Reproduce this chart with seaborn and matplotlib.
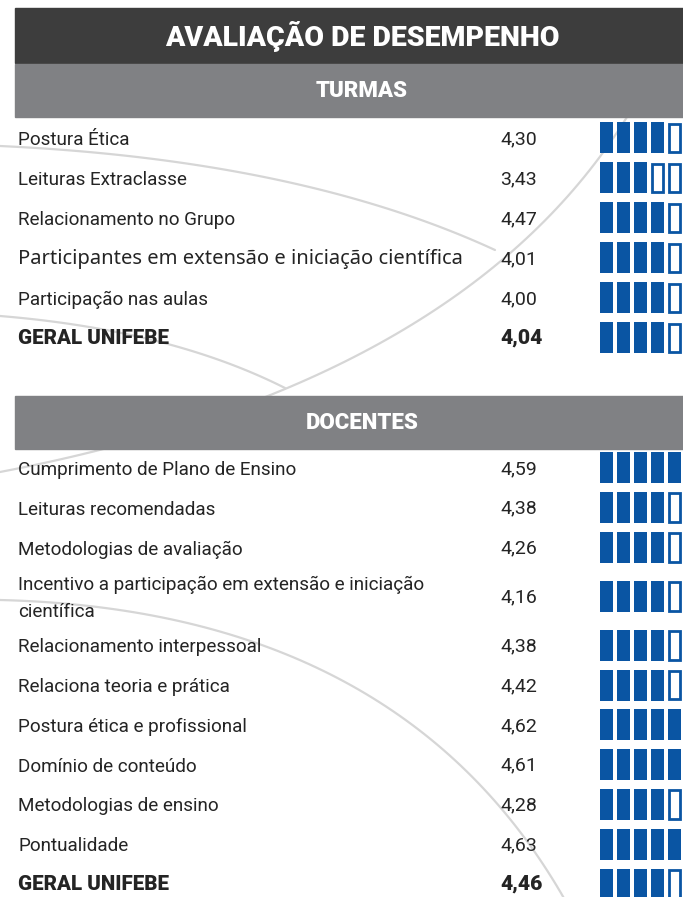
"""Infographic: Avaliação de desempenho (turmas e docentes)."""
import numpy as np
import matplotlib
matplotlib.use('Agg')
import matplotlib.pyplot as plt
from matplotlib.patches import Rectangle
import seaborn as sns

# --- data ---
turmas_labels = [
    'Postura Ética',
    'Leituras Extraclasse',
    'Relacionamento no Grupo',
    'Participantes em extensão e iniciação científica',
    'Participação nas aulas',
    'GERAL UNIFEBE',
]
turmas_values = [4.30, 3.43, 4.47, 4.01, 4.00, 4.04]
turmas_filled = [4, 3, 4, 4, 4, 4]

docentes_labels = [
    'Cumprimento de Plano de Ensino',
    'Leituras recomendadas',
    'Metodologias de avaliação',
    'Incentivo a participação em extensão e iniciação\ncientífica',
    'Relacionamento interpessoal',
    'Relaciona teoria e prática',
    'Postura ética e profissional',
    'Domínio de conteúdo',
    'Metodologias de ensino',
    'Pontualidade',
    'GERAL UNIFEBE',
]
docentes_values = [4.59, 4.38, 4.26, 4.16, 4.38, 4.42, 4.62, 4.61, 4.28, 4.63, 4.46]
docentes_filled = [5, 4, 4, 4, 4, 4, 5, 5, 4, 5, 4]

title = 'AVALIAÇÃO DE DESEMPENHO'
sections = ['TURMAS', 'DOCENTES']

# --- style ---
sns.set_theme(style='white')
plt.rcParams['font.family'] = ['Roboto', 'DejaVu Sans']
BLUE = '#0a55a3'
TEXT = '#242424'
CURVE = '#d6d6d6'

W, H = 683, 897
fig = plt.figure(figsize=(W / 100, H / 100), dpi=100)
ax = fig.add_axes([0, 0, 1, 1])
ax.set_xlim(0, W)
ax.set_ylim(H, 0)
ax.axis('off')


def bezier(p0, p1, p2, n=80):
    t = np.linspace(0, 1, n)[:, None]
    pts = (1 - t) ** 2 * np.array(p0) + 2 * (1 - t) * t * np.array(p1) + t ** 2 * np.array(p2)
    return pts[:, 0], pts[:, 1]


# decorative background arcs
for p0, p1, p2 in [
    ((0, 146), (300, 160), (495, 250)),
    ((640, 95), (480, 380), (0, 472)),
    ((0, 316), (170, 330), (285, 388)),
    ((0, 600), (400, 610), (565, 900)),
]:
    xs, ys = bezier(p0, p1, p2)
    ax.plot(xs, ys, color=CURVE, lw=1.6, zorder=0, solid_capstyle='round')

# header bars
BAR_X = 15
ax.add_patch(Rectangle((BAR_X, 8), W - BAR_X, 55, color='#3d3d3d', zorder=2))
ax.text(362, 37, title, color='white', fontsize=20.5, fontweight='black',
        ha='center', va='center', zorder=3)


def section_bar(y0, name):
    ax.add_patch(Rectangle((BAR_X, y0), W - BAR_X, 53, color='#808184', zorder=2))
    ax.text(362, y0 + 27, name, color='white', fontsize=16, fontweight='black',
            ha='center', va='center', zorder=3)


def rating(yc, filled):
    bw, bh, pitch, x0 = 13, 31, 17, 600
    for i in range(5):
        x = x0 + i * pitch
        if i < filled:
            ax.add_patch(Rectangle((x, yc - bh / 2), bw, bh, facecolor=BLUE,
                                   edgecolor='none', zorder=3))
        else:
            ax.add_patch(Rectangle((x + 1.2, yc - bh / 2 + 1.2), bw - 2.4, bh - 2.4,
                                   facecolor='white', edgecolor=BLUE, lw=2.0, zorder=3))


def rows(y_start, labels, values, filled, rh=40, rh2=59):
    y = y_start
    for lab, val, nf in zip(labels, values, filled):
        two = '\n' in lab
        h = rh2 if two else rh
        yc = y + h / 2
        bold = lab.startswith('GERAL')
        if lab.startswith('Participantes'):
            ax.text(18, yc + 1, lab, color=TEXT, fontsize=14.5, family=['Noto Sans', 'DejaVu Sans'],
                    ha='left', va='center', zorder=3)
        else:
            ax.text(18, yc + (0.5 if bold else 2), lab, color=TEXT,
                    fontsize=14.8 if bold else 13.6,
                    fontweight='black' if bold else 'normal', ha='left', va='center',
                    linespacing=1.65, zorder=3)
        ax.text(500, yc + (0 if bold else 1), f'{val:.2f}'.replace('.', ','), color=TEXT,
                fontsize=15.2 if bold else 14, fontweight='black' if bold else 'normal',
                ha='left', va='center', zorder=3)
        rating(yc, nf)
        y += h


section_bar(64, sections[0])
rows(118, turmas_labels, turmas_values, turmas_filled)
section_bar(396, sections[1])
rows(448, docentes_labels, docentes_values, docentes_filled, rh=39.8, rh2=58)

fig.savefig('out.png', dpi=100, facecolor='white')
plt.close(fig)
